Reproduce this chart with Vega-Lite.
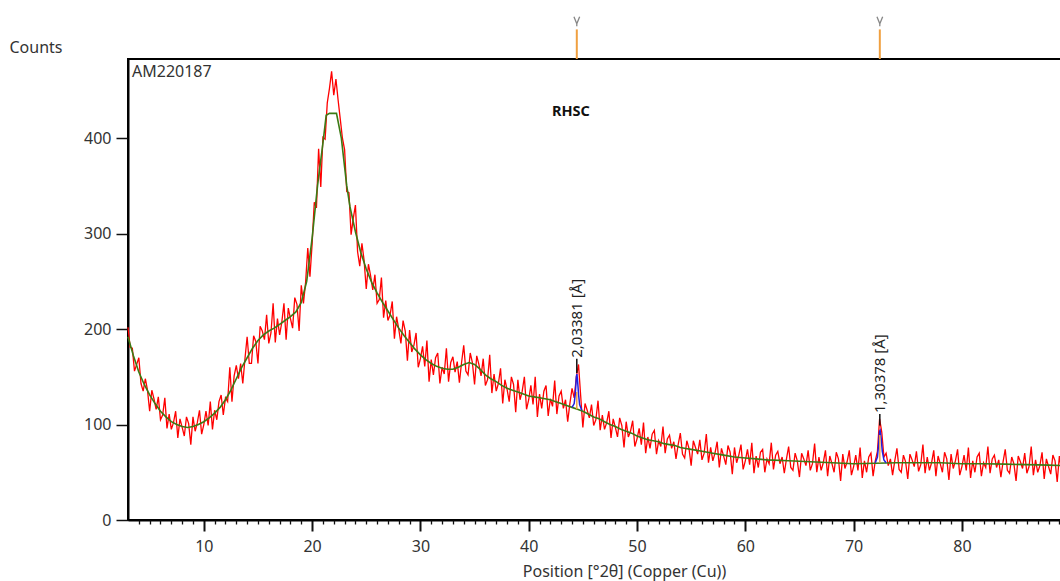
{
"$schema": "https://vega.github.io/schema/vega-lite/v6.json",
"width": 933,
"height": 461,
"autosize": {"type": "none"},
"padding": {"left": 128, "top": 59, "right": 0, "bottom": 61},
"config": {"view": {"stroke": "black", "strokeWidth": 2}, "font": "Noto Sans"},
"resolve": {"axis": {"x": "independent"}},
"datasets": {
"obs": [
{"x":3.0,"y":202},{"x":3.2,"y":181},{"x":3.4,"y":180},{"x":3.6,"y":156},{"x":3.8,"y":163},{"x":4.0,"y":170},{"x":4.2,"y":143},{"x":4.4,"y":135},{"x":4.6,"y":148},{"x":4.8,"y":136},
{"x":5.0,"y":114},{"x":5.2,"y":136},{"x":5.4,"y":127},{"x":5.6,"y":116},{"x":5.8,"y":129},{"x":6.0,"y":105},{"x":6.2,"y":110},{"x":6.4,"y":128},{"x":6.6,"y":96},{"x":6.8,"y":111},
{"x":7.0,"y":95},{"x":7.2,"y":102},{"x":7.4,"y":114},{"x":7.6,"y":86},{"x":7.8,"y":106},{"x":8.0,"y":97},{"x":8.2,"y":88},{"x":8.4,"y":108},{"x":8.6,"y":101},{"x":8.8,"y":79},
{"x":9.0,"y":108},{"x":9.2,"y":93},{"x":9.4,"y":102},{"x":9.6,"y":115},{"x":9.8,"y":90},{"x":10.0,"y":100},{"x":10.2,"y":114},{"x":10.4,"y":99},{"x":10.6,"y":124},{"x":10.8,"y":95},
{"x":11.0,"y":115},{"x":11.2,"y":105},{"x":11.4,"y":124},{"x":11.6,"y":131},{"x":11.8,"y":110},{"x":12.0,"y":128},{"x":12.2,"y":124},{"x":12.4,"y":160},{"x":12.6,"y":124},{"x":12.8,"y":151},
{"x":13.0,"y":162},{"x":13.2,"y":148},{"x":13.4,"y":164},{"x":13.6,"y":143},{"x":13.8,"y":169},{"x":14.0,"y":192},{"x":14.2,"y":164},{"x":14.4,"y":164},{"x":14.6,"y":193},{"x":14.8,"y":187},
{"x":15.0,"y":164},{"x":15.2,"y":203},{"x":15.4,"y":198},{"x":15.6,"y":189},{"x":15.8,"y":215},{"x":16.0,"y":185},{"x":16.2,"y":196},{"x":16.4,"y":227},{"x":16.6,"y":186},{"x":16.8,"y":211},
{"x":17.0,"y":194},{"x":17.2,"y":207},{"x":17.4,"y":227},{"x":17.6,"y":189},{"x":17.8,"y":222},{"x":18.0,"y":211},{"x":18.2,"y":201},{"x":18.4,"y":233},{"x":18.6,"y":226},{"x":18.8,"y":198},
{"x":19.0,"y":246},{"x":19.2,"y":227},{"x":19.4,"y":249},{"x":19.6,"y":285},{"x":19.8,"y":255},{"x":20.0,"y":289},{"x":20.2,"y":333},{"x":20.4,"y":327},{"x":20.6,"y":389},{"x":20.8,"y":349},
{"x":21.0,"y":401},{"x":21.2,"y":399},{"x":21.4,"y":437},{"x":21.6,"y":452},{"x":21.8,"y":470},{"x":22.0,"y":445},{"x":22.2,"y":462},{"x":22.4,"y":440},{"x":22.6,"y":420},{"x":22.8,"y":400},
{"x":23.0,"y":388},{"x":23.2,"y":344},{"x":23.4,"y":343},{"x":23.6,"y":299},{"x":23.8,"y":316},{"x":24.0,"y":330},{"x":24.2,"y":281},{"x":24.4,"y":266},{"x":24.6,"y":290},{"x":24.8,"y":272},
{"x":25.0,"y":242},{"x":25.2,"y":268},{"x":25.4,"y":256},{"x":25.6,"y":241},{"x":25.8,"y":257},{"x":26.0,"y":227},{"x":26.2,"y":231},{"x":26.4,"y":254},{"x":26.6,"y":212},{"x":26.8,"y":230},
{"x":27.0,"y":209},{"x":27.2,"y":215},{"x":27.4,"y":229},{"x":27.6,"y":190},{"x":27.8,"y":213},{"x":28.0,"y":200},{"x":28.2,"y":185},{"x":28.4,"y":209},{"x":28.6,"y":198},{"x":28.8,"y":167},
{"x":29.0,"y":199},{"x":29.2,"y":176},{"x":29.4,"y":183},{"x":29.6,"y":196},{"x":29.8,"y":160},{"x":30.0,"y":169},{"x":30.2,"y":182},{"x":30.4,"y":161},{"x":30.6,"y":188},{"x":30.8,"y":145},
{"x":31.0,"y":168},{"x":31.2,"y":152},{"x":31.4,"y":170},{"x":31.6,"y":175},{"x":31.8,"y":143},{"x":32.0,"y":160},{"x":32.2,"y":153},{"x":32.4,"y":180},{"x":32.6,"y":145},{"x":32.8,"y":165},
{"x":33.0,"y":171},{"x":33.2,"y":155},{"x":33.4,"y":166},{"x":33.6,"y":144},{"x":33.8,"y":165},{"x":34.0,"y":183},{"x":34.2,"y":156},{"x":34.4,"y":152},{"x":34.6,"y":175},{"x":34.8,"y":165},
{"x":35.0,"y":142},{"x":35.2,"y":172},{"x":35.4,"y":163},{"x":35.6,"y":151},{"x":35.8,"y":169},{"x":36.0,"y":141},{"x":36.2,"y":147},{"x":36.4,"y":173},{"x":36.6,"y":133},{"x":36.8,"y":153},
{"x":37.0,"y":135},{"x":37.2,"y":143},{"x":37.4,"y":159},{"x":37.6,"y":122},{"x":37.8,"y":147},{"x":38.0,"y":137},{"x":38.2,"y":124},{"x":38.4,"y":150},{"x":38.6,"y":142},{"x":38.8,"y":113},
{"x":39.0,"y":147},{"x":39.2,"y":126},{"x":39.4,"y":135},{"x":39.6,"y":150},{"x":39.8,"y":116},{"x":40.0,"y":126},{"x":40.2,"y":141},{"x":40.4,"y":121},{"x":40.6,"y":150},{"x":40.8,"y":108},
{"x":41.0,"y":132},{"x":41.2,"y":117},{"x":41.4,"y":135},{"x":41.6,"y":141},{"x":41.8,"y":109},{"x":42.0,"y":127},{"x":42.2,"y":119},{"x":42.4,"y":146},{"x":42.6,"y":111},{"x":42.8,"y":130},
{"x":43.0,"y":135},{"x":43.2,"y":117},{"x":43.4,"y":126},{"x":43.6,"y":103},{"x":43.8,"y":122},{"x":44.0,"y":138},{"x":44.2,"y":128},{"x":44.4,"y":150},{"x":44.6,"y":163},{"x":44.8,"y":130},
{"x":45.0,"y":97},{"x":45.2,"y":122},{"x":45.4,"y":115},{"x":45.6,"y":107},{"x":45.8,"y":121},{"x":46.0,"y":99},{"x":46.2,"y":105},{"x":46.4,"y":125},{"x":46.6,"y":94},{"x":46.8,"y":110},
{"x":47.0,"y":95},{"x":47.2,"y":102},{"x":47.4,"y":114},{"x":47.6,"y":86},{"x":47.8,"y":106},{"x":48.0,"y":97},{"x":48.2,"y":87},{"x":48.4,"y":107},{"x":48.6,"y":99},{"x":48.8,"y":76},
{"x":49.0,"y":103},{"x":49.2,"y":87},{"x":49.4,"y":93},{"x":49.6,"y":104},{"x":49.8,"y":77},{"x":50.0,"y":85},{"x":50.2,"y":96},{"x":50.4,"y":79},{"x":50.6,"y":102},{"x":50.8,"y":70},
{"x":51.0,"y":87},{"x":51.2,"y":75},{"x":51.4,"y":90},{"x":51.6,"y":94},{"x":51.8,"y":69},{"x":52.0,"y":83},{"x":52.2,"y":77},{"x":52.4,"y":98},{"x":52.6,"y":70},{"x":52.8,"y":85},
{"x":53.0,"y":89},{"x":53.2,"y":75},{"x":53.4,"y":82},{"x":53.6,"y":64},{"x":53.8,"y":79},{"x":54.0,"y":91},{"x":54.2,"y":69},{"x":54.4,"y":65},{"x":54.6,"y":83},{"x":54.8,"y":75},
{"x":55.0,"y":57},{"x":55.2,"y":83},{"x":55.4,"y":76},{"x":55.6,"y":69},{"x":55.8,"y":84},{"x":56.0,"y":63},{"x":56.2,"y":70},{"x":56.4,"y":90},{"x":56.6,"y":60},{"x":56.8,"y":76},
{"x":57.0,"y":62},{"x":57.2,"y":70},{"x":57.4,"y":82},{"x":57.6,"y":55},{"x":57.8,"y":75},{"x":58.0,"y":67},{"x":58.2,"y":58},{"x":58.4,"y":78},{"x":58.6,"y":71},{"x":58.8,"y":48},
{"x":59.0,"y":76},{"x":59.2,"y":60},{"x":59.4,"y":68},{"x":59.6,"y":79},{"x":59.8,"y":53},{"x":60.0,"y":62},{"x":60.2,"y":74},{"x":60.4,"y":58},{"x":60.6,"y":81},{"x":60.8,"y":49},
{"x":61.0,"y":67},{"x":61.2,"y":55},{"x":61.4,"y":71},{"x":61.6,"y":74},{"x":61.8,"y":50},{"x":62.0,"y":64},{"x":62.2,"y":59},{"x":62.4,"y":81},{"x":62.6,"y":53},{"x":62.8,"y":68},
{"x":63.0,"y":72},{"x":63.2,"y":59},{"x":63.4,"y":66},{"x":63.6,"y":49},{"x":63.8,"y":64},{"x":64.0,"y":77},{"x":64.2,"y":55},{"x":64.4,"y":52},{"x":64.6,"y":70},{"x":64.8,"y":62},
{"x":65.0,"y":45},{"x":65.2,"y":70},{"x":65.4,"y":64},{"x":65.6,"y":57},{"x":65.8,"y":73},{"x":66.0,"y":52},{"x":66.2,"y":59},{"x":66.4,"y":80},{"x":66.6,"y":50},{"x":66.8,"y":66},
{"x":67.0,"y":52},{"x":67.2,"y":60},{"x":67.4,"y":73},{"x":67.6,"y":46},{"x":67.8,"y":67},{"x":68.0,"y":59},{"x":68.2,"y":50},{"x":68.4,"y":71},{"x":68.6,"y":64},{"x":68.8,"y":41},
{"x":69.0,"y":69},{"x":69.2,"y":54},{"x":69.4,"y":61},{"x":69.6,"y":73},{"x":69.8,"y":47},{"x":70.0,"y":56},{"x":70.2,"y":68},{"x":70.4,"y":52},{"x":70.6,"y":76},{"x":70.8,"y":44},
{"x":71.0,"y":62},{"x":71.2,"y":50},{"x":71.4,"y":66},{"x":71.6,"y":70},{"x":71.8,"y":46},{"x":72.0,"y":62},{"x":72.2,"y":72},{"x":72.4,"y":106},{"x":72.6,"y":92},{"x":72.8,"y":66},
{"x":73.0,"y":70},{"x":73.2,"y":57},{"x":73.4,"y":64},{"x":73.6,"y":47},{"x":73.8,"y":62},{"x":74.0,"y":75},{"x":74.2,"y":53},{"x":74.4,"y":50},{"x":74.6,"y":68},{"x":74.8,"y":61},
{"x":75.0,"y":43},{"x":75.2,"y":69},{"x":75.4,"y":63},{"x":75.6,"y":56},{"x":75.8,"y":72},{"x":76.0,"y":51},{"x":76.2,"y":58},{"x":76.4,"y":79},{"x":76.6,"y":49},{"x":76.8,"y":66},
{"x":77.0,"y":52},{"x":77.2,"y":60},{"x":77.4,"y":73},{"x":77.6,"y":46},{"x":77.8,"y":67},{"x":78.0,"y":59},{"x":78.2,"y":50},{"x":78.4,"y":71},{"x":78.6,"y":64},{"x":78.8,"y":42},
{"x":79.0,"y":69},{"x":79.2,"y":54},{"x":79.4,"y":62},{"x":79.6,"y":74},{"x":79.8,"y":47},{"x":80.0,"y":56},{"x":80.2,"y":68},{"x":80.4,"y":52},{"x":80.6,"y":76},{"x":80.8,"y":44},
{"x":81.0,"y":62},{"x":81.2,"y":50},{"x":81.4,"y":66},{"x":81.6,"y":70},{"x":81.8,"y":46},{"x":82.0,"y":60},{"x":82.2,"y":55},{"x":82.4,"y":77},{"x":82.6,"y":49},{"x":82.8,"y":64},
{"x":83.0,"y":68},{"x":83.2,"y":55},{"x":83.4,"y":63},{"x":83.6,"y":45},{"x":83.8,"y":61},{"x":84.0,"y":74},{"x":84.2,"y":52},{"x":84.4,"y":49},{"x":84.6,"y":66},{"x":84.8,"y":59},
{"x":85.0,"y":41},{"x":85.2,"y":67},{"x":85.4,"y":61},{"x":85.6,"y":54},{"x":85.8,"y":70},{"x":86.0,"y":49},{"x":86.2,"y":56},{"x":86.4,"y":77},{"x":86.6,"y":47},{"x":86.8,"y":63},
{"x":87.0,"y":50},{"x":87.2,"y":57},{"x":87.4,"y":71},{"x":87.6,"y":43},{"x":87.8,"y":64},{"x":88.0,"y":56},{"x":88.2,"y":48},{"x":88.4,"y":68},{"x":88.6,"y":62},{"x":88.8,"y":40},
{"x":89.0,"y":67},{"x":89.2,"y":52}
],
"fit": [
{"x":3,"y":192},{"x":3.5,"y":172},{"x":4,"y":155},{"x":4.5,"y":142},{"x":5,"y":131},{"x":5.5,"y":122},{"x":6,"y":114},{"x":6.5,"y":108},{"x":7,"y":103},{"x":7.5,"y":100},
{"x":8,"y":98},{"x":8.5,"y":97},{"x":9,"y":98},{"x":9.5,"y":100},{"x":10,"y":103},{"x":10.5,"y":107},{"x":11,"y":112},{"x":11.5,"y":118},{"x":12,"y":126},{"x":12.5,"y":136},
{"x":13,"y":148},{"x":13.5,"y":160},{"x":14,"y":170},{"x":14.5,"y":180},{"x":15,"y":188},{"x":15.5,"y":194},{"x":16,"y":198},{"x":16.5,"y":201},{"x":17,"y":205},{"x":17.5,"y":209},
{"x":18,"y":213},{"x":18.5,"y":218},{"x":19,"y":228},{"x":19.5,"y":250},{"x":20,"y":295},{"x":20.5,"y":350},{"x":21,"y":395},{"x":21.3,"y":424},{"x":21.6,"y":426},{"x":22.25,"y":426},
{"x":22.7,"y":400},{"x":23,"y":370},{"x":23.2,"y":350},{"x":23.5,"y":328},{"x":24,"y":302},{"x":24.5,"y":280},{"x":25,"y":263},{"x":25.5,"y":249},{"x":26,"y":238},{"x":26.5,"y":228},
{"x":27,"y":219},{"x":27.5,"y":210},{"x":28,"y":201},{"x":28.5,"y":193},{"x":29,"y":186},{"x":29.5,"y":179},{"x":30,"y":173},{"x":30.5,"y":168},{"x":31,"y":164},{"x":31.5,"y":161},
{"x":32,"y":159},{"x":32.5,"y":158},{"x":33,"y":158},{"x":33.5,"y":160},{"x":34,"y":163},{"x":34.5,"y":165},{"x":35,"y":163},{"x":35.5,"y":158},{"x":36,"y":152},{"x":36.5,"y":148},
{"x":37,"y":145},{"x":37.5,"y":141},{"x":38,"y":138},{"x":38.5,"y":136},{"x":39,"y":134},{"x":39.5,"y":132},{"x":40,"y":130},{"x":40.5,"y":129},{"x":41,"y":128},{"x":41.5,"y":127},
{"x":42,"y":126},{"x":42.5,"y":124},{"x":43,"y":122},{"x":43.5,"y":120},{"x":44,"y":118},{"x":44.5,"y":116},{"x":45,"y":114},{"x":45.5,"y":111},{"x":46,"y":108},{"x":46.5,"y":106},
{"x":47,"y":103},{"x":47.5,"y":100},{"x":48,"y":98},{"x":48.5,"y":95},{"x":49,"y":93},{"x":49.5,"y":91},{"x":50,"y":88},{"x":50.5,"y":86},{"x":51,"y":84},{"x":51.5,"y":83},
{"x":52,"y":82},{"x":52.5,"y":80},{"x":53,"y":79},{"x":53.5,"y":78},{"x":54,"y":76},{"x":54.5,"y":75},{"x":55,"y":74},{"x":56,"y":72},{"x":57,"y":70},{"x":58,"y":68},
{"x":59,"y":66},{"x":60,"y":65},{"x":61,"y":64},{"x":62,"y":63},{"x":64,"y":62},{"x":66,"y":61},{"x":68,"y":60},{"x":70,"y":59},{"x":72,"y":59.5},{"x":74,"y":60},
{"x":76,"y":60},{"x":78,"y":60},{"x":80,"y":59},{"x":82,"y":59},{"x":84,"y":58.5},{"x":86,"y":58},{"x":88,"y":57.5},{"x":89.2,"y":57}
],
"peaks": [
{"pk":"a","x":44.0,"y":118},{"pk":"a","x":44.2,"y":122},{"pk":"a","x":44.3,"y":132},{"pk":"a","x":44.4,"y":150},{"pk":"a","x":44.45,"y":153},{"pk":"a","x":44.5,"y":148},{"pk":"a","x":44.6,"y":132},{"pk":"a","x":44.7,"y":121},{"pk":"a","x":44.9,"y":115},
{"pk":"b","x":72.0,"y":60},{"pk":"b","x":72.2,"y":66},{"pk":"b","x":72.3,"y":78},{"pk":"b","x":72.4,"y":93},{"pk":"b","x":72.45,"y":94},{"pk":"b","x":72.55,"y":85},{"pk":"b","x":72.65,"y":72},{"pk":"b","x":72.8,"y":63},{"pk":"b","x":73.0,"y":60}
],
"sticks": [
{"x":44.44,"y":116,"y2":134},{"x":72.42,"y":60,"y2":89}
],
"leaders": [
{"x":44.44,"y":154,"y2":169},{"x":72.42,"y":99,"y2":111}
],
"dlabels": [
{"x":44.44,"y":170,"t":"2,03381 [Å]"},{"x":72.42,"y":112,"t":"1,30378 [Å]"}
],
"refs": [
{"x":44.44,"y":483,"y2":514},{"x":72.42,"y":483,"y2":514}
],
"sample": [{"x":3.37,"y":469,"t":"AM220187"}],
"phase": [{"x":43.9,"y":427,"t":"RHSC"}]
},
"layer": [
{
"data": {"name": "obs"},
"mark": {"type": "line", "color": "#ff0000", "strokeWidth": 1.3},
"encoding": {
"x": {"field": "x", "type": "quantitative",
"scale": {"domain": [3, 89.15], "nice": false, "zero": false},
"axis": {
"orient": "bottom",
"title": "Position [°2θ] (Copper (Cu))",
"values": [10, 20, 30, 40, 50, 60, 70, 80],
"labelOverlap": false,
"labelFlush": false,
"tickSize": 11,
"tickWidth": 2,
"tickColor": "#111",
"domainColor": "black",
"domainWidth": 2,
"grid": false,
"labelFontSize": 16,
"labelColor": "#333",
"labelPadding": 7,
"titleFontSize": 16,
"titleFontWeight": "normal",
"titleColor": "#333",
"titleX": 496,
"titleY": 51,
"titleAlign": "center",
"titleBaseline": "middle"
}
},
"y": {"field": "y", "type": "quantitative",
"scale": {"domain": [0, 483], "nice": false},
"axis": {
"title": "Counts",
"values": [0, 100, 200, 300, 400],
"tickSize": 12,
"tickWidth": 1.5,
"tickColor": "#111",
"domainColor": "black",
"domainWidth": 2,
"grid": false,
"labelFontSize": 16,
"labelColor": "#333",
"labelPadding": 5,
"titleAngle": 0,
"titleX": -119,
"titleY": -12,
"titleAlign": "left",
"titleBaseline": "middle",
"titleFontSize": 16,
"titleFontWeight": "normal",
"titleColor": "#333"
}
}
}
},
{
"data": {"name": "fit"},
"mark": {"type": "line", "color": "#3b7a14", "strokeWidth": 1.6},
"encoding": {
"x": {"field": "x", "type": "quantitative",
"axis": {"orient": "bottom", "title": null, "labels": false, "domain": false, "grid": false,
"values": [4,5,6,7,8,9,11,12,13,14,15,16,17,18,19,21,22,23,24,25,26,27,28,29,31,32,33,34,35,36,37,38,39,41,42,43,44,45,46,47,48,49,51,52,53,54,55,56,57,58,59,61,62,63,64,65,66,67,68,69,71,72,73,74,75,76,77,78,79,81,82,83,84,85,86,87,88,89],
"tickSize": 4, "tickWidth": 1.3, "tickColor": "#111"}},
"y": {"field": "y", "type": "quantitative"}
}
},
{
"data": {"name": "peaks"},
"mark": {"type": "line", "color": "#2020e0", "strokeWidth": 1.5},
"encoding": {"x": {"field": "x", "type": "quantitative", "axis": null}, "y": {"field": "y", "type": "quantitative"}, "detail": {"field": "pk"}}
},
{
"data": {"name": "sticks"},
"mark": {"type": "rule", "color": "#f0a040", "strokeWidth": 1.5},
"encoding": {"x": {"field": "x", "type": "quantitative", "axis": null}, "y": {"field": "y", "type": "quantitative"}, "y2": {"field": "y2"}}
},
{
"data": {"name": "leaders"},
"mark": {"type": "rule", "color": "#111", "strokeWidth": 1.5},
"encoding": {"x": {"field": "x", "type": "quantitative", "axis": null}, "y": {"field": "y", "type": "quantitative"}, "y2": {"field": "y2"}}
},
{
"data": {"name": "dlabels"},
"mark": {"type": "text", "angle": 270, "align": "left", "baseline": "middle", "fontSize": 15, "color": "#222"},
"encoding": {"x": {"field": "x", "type": "quantitative", "axis": null}, "y": {"field": "y", "type": "quantitative"}, "text": {"field": "t"}}
},
{
"data": {"name": "refs"},
"mark": {"type": "rule", "color": "#f0a040", "strokeWidth": 2},
"encoding": {"x": {"field": "x", "type": "quantitative", "axis": null}, "y": {"field": "y", "type": "quantitative"}, "y2": {"field": "y2"}}
},
{
"data": {"name": "refs"},
"mark": {"type": "point", "shape": "M-0.6,-1L0,0.5L0.6,-1M0,0.5L0,1", "filled": false, "stroke": "#555", "strokeWidth": 1.3, "size": 90},
"encoding": {"x": {"field": "x", "type": "quantitative", "axis": null}, "y": {"field": "y2", "type": "quantitative"}, "yOffset": {"value": -8}}
},
{
"data": {"name": "sample"},
"mark": {"type": "text", "align": "left", "baseline": "middle", "fontSize": 16, "color": "#333"},
"encoding": {"x": {"field": "x", "type": "quantitative", "axis": null}, "y": {"field": "y", "type": "quantitative"}, "text": {"field": "t"}}
},
{
"data": {"name": "phase"},
"mark": {"type": "text", "align": "center", "baseline": "middle", "fontSize": 14.5, "fontWeight": "bold", "color": "#111"},
"encoding": {"x": {"field": "x", "type": "quantitative", "axis": null}, "y": {"field": "y", "type": "quantitative"}, "text": {"field": "t"}}
}
]
}
